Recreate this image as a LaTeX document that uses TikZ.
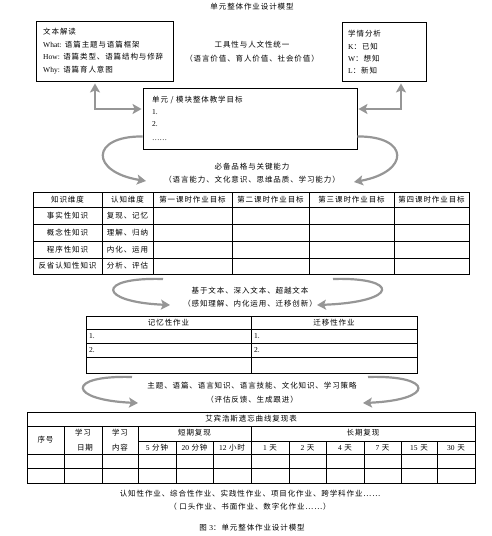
\documentclass[tikz,border=0pt]{standalone}
\usepackage{fontspec}
\setmainfont{Liberation Serif}
\newfontfamily\cjk[LetterSpace=12]{Noto Sans CJK SC}
\usetikzlibrary{arrows.meta}
\definecolor{arrowgray}{RGB}{150,150,150}
\newcommand{\en}[1]{{\rmfamily #1}}
\tikzset{
  txt/.style={inner sep=0pt, font=\fontsize{7.5}{9}\selectfont\cjk},
  box/.style={draw, line width=0.9pt, inner sep=0pt},
  tbl/.style={line width=0.8pt},
  elbow/.style={draw=arrowgray, line width=2.4pt,
    {Stealth[length=9pt,width=10pt,inset=2pt]}-{Stealth[length=9pt,width=10pt,inset=2pt]}},
  swing/.style={draw=arrowgray, line width=2.2pt,
    -{Stealth[length=9pt,width=10pt,inset=2pt]}}
}

\begin{document}
\begin{tikzpicture}[x=1pt, y=-1pt]
\useasboundingbox (0,0) rectangle (491,536);

\node [txt] (title) at (252,7) {单元整体作业设计模型};

% top boxes
\node [box, minimum width=137pt, minimum height=60pt] (reading) at (104.5,51) {};
\node [txt, anchor=west] (r1) at (43,32) {文本解读};
\node [txt, anchor=west] (r2) at (43,45) {\en{What:} 语篇主题与语篇框架};
\node [txt, anchor=west] (r3) at (43,57) {\en{How:} 语篇类型、语篇结构与修辞};
\node [txt, anchor=west] (r4) at (43,70) {\en{Why:} 语篇育人意图};

\node [txt] (unity) at (252,45) {工具性与人文性统一};
\node [txt] (values) at (252,59) {（语言价值、育人价值、社会价值）};

\node [box, minimum width=84pt, minimum height=59pt] (learners) at (384,51.5) {};
\node [txt, anchor=west] (l1) at (348,34) {学情分析};
\node [txt, anchor=west] (l2) at (348,47) {\en{K}：已知};
\node [txt, anchor=west] (l3) at (348,59) {\en{W}：想知};
\node [txt, anchor=west] (l4) at (348,71) {\en{L}：新知};

\node [box, minimum width=214pt, minimum height=61pt] (goals) at (250,118.5) {};
\node [txt, anchor=west] (g1) at (152,100) {单元 / 模块整体教学目标};
\node [txt, anchor=west] (g2) at (152,112) {\en{1.}};
\node [txt, anchor=west] (g3) at (152,124) {\en{2.}};
\node [txt, anchor=west] (g4) at (152,140) {\en{……}};

% elbow arrows
\coordinate (lcorner) at (95,109);
\coordinate (rcorner) at (401,109);
\draw [elbow, shorten <=2pt, shorten >=1pt] (reading.south -| lcorner) -- (lcorner) -- (goals.west |- lcorner);
\draw [elbow, shorten <=2pt, shorten >=1pt] (learners.south -| rcorner) -- (rcorner) -- (goals.east |- rcorner);

% curved arrows
\coordinate (c1l) at (146,181);
\coordinate (c1r) at (354,182);
\draw [swing] ([yshift=13pt]goals.south west) .. controls (90,136) and (90,172) .. (c1l);
\draw [swing] ([yshift=13pt]goals.south east) .. controls (410,136) and (410,172) .. (c1r);

\node [txt] (ability) at (252,167) {必备品格与关键能力};
\node [txt] (abilities) at (252,180) {（语言能力、文化意识、思维品质、学习能力）};

% knowledge table
\draw [tbl] (33,192) rectangle (469,274);
\foreach \y in {207,224,241,258}
  \draw [tbl] (33,\y) -- (469,\y);
\foreach \x in {102,153,232,309,394}
  \draw [tbl] (\x,192) -- (\x,274);
\foreach \cx/\txt [count=\i] in {67.5/知识维度, 127.5/认知维度, 192.5/第一课时作业目标,
    270.5/第二课时作业目标, 351.5/第三课时作业目标, 431.5/第四课时作业目标}
  \node [txt] (head\i) at (\cx,199.5) {\txt};
\foreach \cy/\know/\cog [count=\i] in {215.5/事实性知识/复现、记忆, 232.5/概念性知识/理解、归纳,
    249.5/程序性知识/内化、运用, 266/反省认知性知识/分析、评估} {
  \node [txt] (know\i) at (67.5,\cy) {\know};
  \node [txt] (cog\i) at (127.5,\cy) {\cog};
}

\coordinate (s2l) at (163,279);
\coordinate (e2l) at (170,305);
\coordinate (s2r) at (333,279);
\coordinate (e2r) at (317,305);
\draw [swing] (s2l) .. controls (95,277) and (98,302) .. (e2l);
\draw [swing] (s2r) .. controls (400,277) and (400,302) .. (e2r);

\node [txt] (text) at (250,291) {基于文本、深入文本、超越文本};
\node [txt] (levels) at (250,304) {（感知理解、内化运用、迁移创新）};

% homework table
\draw [tbl] (86,316) rectangle (417,373);
\foreach \y in {329,343,357}
  \draw [tbl] (86,\y) -- (417,\y);
\draw [tbl] (251,316) -- (251,373);
\node [txt] (memo) at (168.5,322.5) {记忆性作业};
\node [txt] (trans) at (334,322.5) {迁移性作业};
\foreach \cy/\num [count=\i] in {336/1., 350/2.} {
  \node [txt, anchor=west] (memo\i) at (89,\cy) {\en{\num}};
  \node [txt, anchor=west] (trans\i) at (254,\cy) {\en{\num}};
}

\coordinate (s3l) at (132,377);
\coordinate (e3l) at (138,403);
\coordinate (s3r) at (368,377);
\coordinate (e3r) at (363,403);
\draw [swing] (s3l) .. controls (65,375) and (68,400) .. (e3l);
\draw [swing] (s3r) .. controls (435,375) and (435,400) .. (e3r);

\node [txt] (topics) at (252,386) {主题、语篇、语言知识、语言技能、文化知识、学习策略};
\node [txt] (feedback) at (252,400) {（评估反馈、生成跟进）};

% review table
\draw [tbl] (27,412) rectangle (475,483);
\draw [tbl] (27,426) -- (475,426);
\draw [tbl] (138,441) -- (475,441);
\foreach \y in {454,468}
  \draw [tbl] (27,\y) -- (475,\y);
\foreach \x in {64,102,138,251}
  \draw [tbl] (\x,426) -- (\x,483);
\foreach \x in {176,213,289,326,364,401,437}
  \draw [tbl] (\x,441) -- (\x,483);
\node [txt] (curve) at (251,419) {艾宾浩斯遗忘曲线复现表};
\node [txt] (no) at (45.5,440) {序号};
\node [txt] (date1) at (83,433) {学习};
\node [txt] (date2) at (85,448) {日期};
\node [txt] (cont1) at (120,433) {学习};
\node [txt] (cont2) at (120,448) {内容};
\node [txt] (short) at (194.5,433) {短期复现};
\node [txt] (long) at (363,433) {长期复现};
\foreach \cx/\num/\unit [count=\i] in {157/5/分钟, 194.5/20/分钟, 232/12/小时, 270/1/天,
    307.5/2/天, 345/4/天, 382.5/7/天, 419/15/天, 456/30/天}
  \node [txt] (int\i) at (\cx,447.5) {\en{\num} \unit};

\node [txt] (kinds) at (250,494) {认知性作业、综合性作业、实践性作业、项目化作业、跨学科作业……};
\node [txt] (forms) at (250,507) {（ 口头作业、书面作业、数字化作业……）};
\node [txt] (caption) at (252,528) {图 \en{3}：单元整体作业设计模型};
\end{tikzpicture}
\end{document}
